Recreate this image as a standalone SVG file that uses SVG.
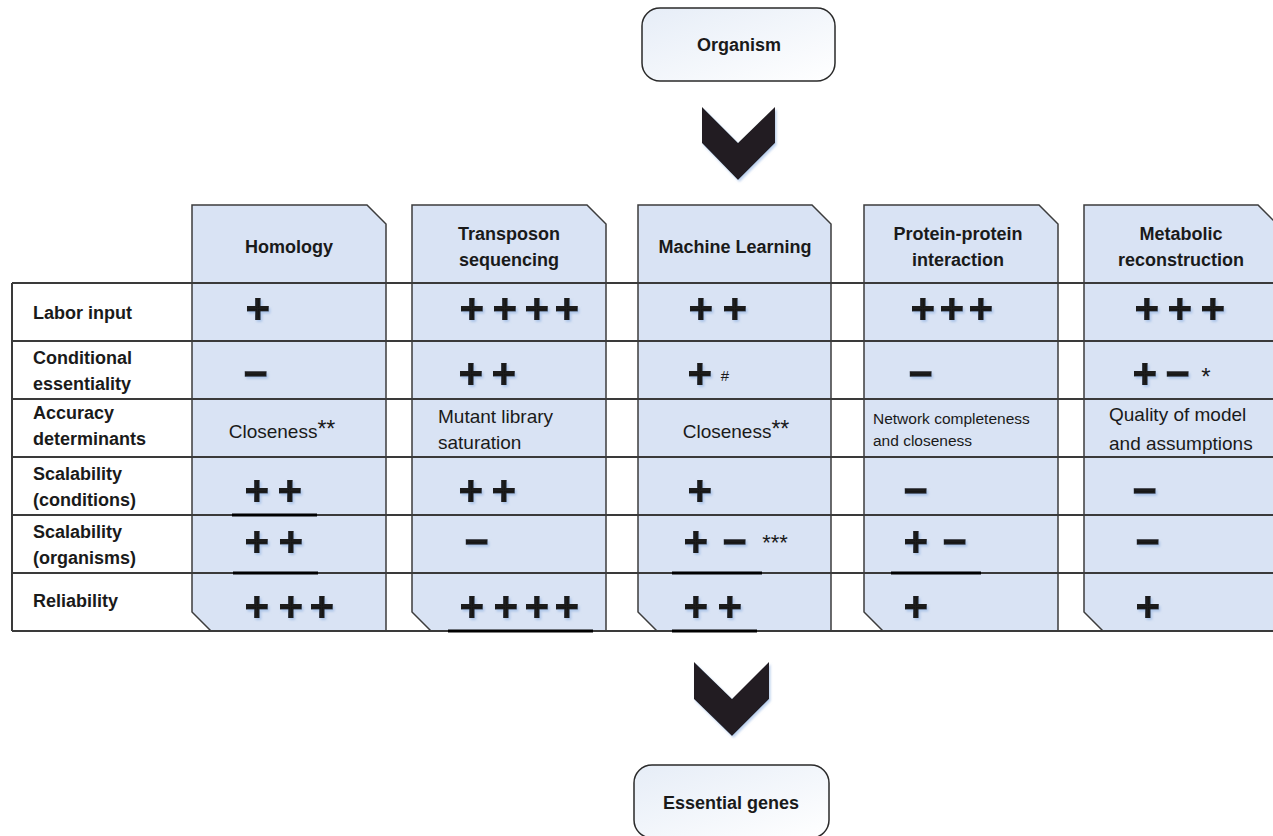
<svg xmlns="http://www.w3.org/2000/svg" width="1273" height="836" viewBox="0 0 1273 836">
<defs>
<linearGradient id="boxg" x1="0" y1="0" x2="1" y2="1">
<stop offset="0" stop-color="#e6edf7"/>
<stop offset="1" stop-color="#ffffff"/>
</linearGradient>
<filter id="sh" x="-30%" y="-30%" width="160%" height="160%">
<feDropShadow dx="1.5" dy="2" stdDeviation="1" flood-color="#8fb0e0" flood-opacity="0.6"/>
</filter>
<style>
.col{fill:#d9e3f4;stroke:#3c3c3c;stroke-width:1.5}
.term{fill:url(#boxg);stroke:#2a2a2a;stroke-width:1.5}
.hl{stroke:#3a3a3a;stroke-width:2;fill:none}
.ul{stroke:#000;stroke-width:3;fill:none}
.lbl{font-family:"Liberation Sans",Arial,sans-serif;font-weight:bold;font-size:18px;fill:#1a1a1a}
.hd{font-family:"Liberation Sans",Arial,sans-serif;font-weight:bold;font-size:18px;fill:#1a1a1a;text-anchor:middle}
.txt{font-family:"Liberation Sans",Arial,sans-serif;font-size:18px;fill:#1a1a1a}
.sym{font-family:"DejaVu Sans",sans-serif;font-weight:bold;font-size:32px;fill:#1a1a1a;stroke:#1a1a1a;stroke-width:1.8;text-anchor:middle;filter:url(#sh)}
.chev{fill:#231f20;filter:url(#sh)}
</style>
</defs>
<rect width="1273" height="836" fill="#ffffff"/>

<g id="organism">
<rect class="term" x="642" y="8" width="193" height="73" rx="18"/>
<text class="hd" x="739" y="51">Organism</text>
</g>

<g id="connectors">
<polygon class="chev" points="702,107 738,143 775,107 775,143 738,180 702,143"/>
<polygon class="chev" points="694,662 732,699 769,662 769,699 732,736 694,699"/>
</g>

<g id="col-homology">
<path class="col" d="M192,205 H367 L386,224 V631 H211 L192,612 Z"/>
<text class="hd" x="289" y="253">Homology</text>
</g>
<g id="col-transposon">
<path class="col" d="M412,205 H587 L606,224 V631 H431 L412,612 Z"/>
<text class="hd" x="509" y="240">Transposon</text>
<text class="hd" x="509" y="266">sequencing</text>
</g>
<g id="col-ml">
<path class="col" d="M638,205 H812 L831,224 V631 H657 L638,612 Z"/>
<text class="hd" x="735" y="253">Machine Learning</text>
</g>
<g id="col-ppi">
<path class="col" d="M864,205 H1039 L1058,224 V631 H883 L864,612 Z"/>
<text class="hd" x="958" y="240">Protein-protein</text>
<text class="hd" x="958" y="266">interaction</text>
</g>
<g id="col-metabolic">
<path class="col" d="M1084,205 H1258 L1278,225 V631 H1103 L1084,612 Z"/>
<text class="hd" x="1181" y="240">Metabolic</text>
<text class="hd" x="1181" y="266">reconstruction</text>
</g>

<g id="grid">
<path class="hl" d="M12,283 H1273 M12,341 H1273 M12,399 H1273 M12,457 H1273 M12,515 H1273 M12,573 H1273 M12,631 H1273 M12,283 V631"/>
<path class="ul" d="M232,515 H317 M233,573 H318 M448,631 H593 M672,573 H762 M672,631 H757 M891,573 H981"/>
</g>

<g id="row-labels">
<text class="lbl" x="33" y="319">Labor input</text>
<text class="lbl" x="33" y="364">Conditional</text>
<text class="lbl" x="33" y="390">essentiality</text>
<text class="lbl" x="33" y="419">Accuracy</text>
<text class="lbl" x="33" y="445">determinants</text>
<text class="lbl" x="33" y="480">Scalability</text>
<text class="lbl" x="33" y="506">(conditions)</text>
<text class="lbl" x="33" y="538">Scalability</text>
<text class="lbl" x="33" y="564">(organisms)</text>
<text class="lbl" x="33" y="607">Reliability</text>
</g>

<g id="cells">
<text class="sym" x="258" y="319">+</text>
<text class="sym" x="472 505 537 567" y="319">++++</text>
<text class="sym" x="701 735" y="319">++</text>
<text class="sym" x="923 952 981" y="319">+++</text>
<text class="sym" x="1147 1180 1213" y="319">+++</text>

<text class="sym" x="256" y="384">−</text>
<text class="sym" x="471 504" y="384">++</text>
<text class="sym" x="700" y="384">+</text>
<text class="txt" x="725" y="381" style="font-size:15px;text-anchor:middle">#</text>
<text class="sym" x="921" y="384">−</text>
<text class="sym" x="1145 1178" y="384">+−</text>
<text class="txt" x="1206" y="385" style="font-size:24px;text-anchor:middle">*</text>

<text class="txt" x="282" y="438" text-anchor="middle" style="font-size:19px">Closeness<tspan style="font-size:23px" dy="-1">**</tspan></text>
<text class="txt" x="438" y="423" style="font-size:19px">Mutant library</text>
<text class="txt" x="438" y="449" style="font-size:19px">saturation</text>
<text class="txt" x="736" y="438" text-anchor="middle" style="font-size:19px">Closeness<tspan style="font-size:23px" dy="-1">**</tspan></text>
<text class="txt" x="873" y="424" style="font-size:15.5px">Network completeness</text>
<text class="txt" x="873" y="446" style="font-size:15.5px">and closeness</text>
<text class="txt" x="1109" y="421" style="font-size:19px">Quality of model</text>
<text class="txt" x="1109" y="450" style="font-size:19px">and assumptions</text>

<text class="sym" x="257 290" y="501">++</text>
<text class="sym" x="471 504" y="501">++</text>
<text class="sym" x="700" y="501">+</text>
<text class="sym" x="916" y="501">−</text>
<text class="sym" x="1145" y="501">−</text>

<text class="sym" x="257 291" y="552">++</text>
<text class="sym" x="477" y="552">−</text>
<text class="sym" x="696 735" y="552">+−</text>
<text class="txt" x="775" y="550" style="font-size:22px;text-anchor:middle">***</text>
<text class="sym" x="916 955" y="552">+−</text>
<text class="sym" x="1148" y="552">−</text>

<text class="sym" x="257 291 322" y="617">+++</text>
<text class="sym" x="472 506 537 567" y="617">++++</text>
<text class="sym" x="696 730" y="617">++</text>
<text class="sym" x="916" y="617">+</text>
<text class="sym" x="1148" y="617">+</text>
</g>

<g id="essential-genes">
<rect class="term" x="634" y="765" width="195" height="73" rx="18"/>
<text class="hd" x="731" y="809">Essential genes</text>
</g>
</svg>
